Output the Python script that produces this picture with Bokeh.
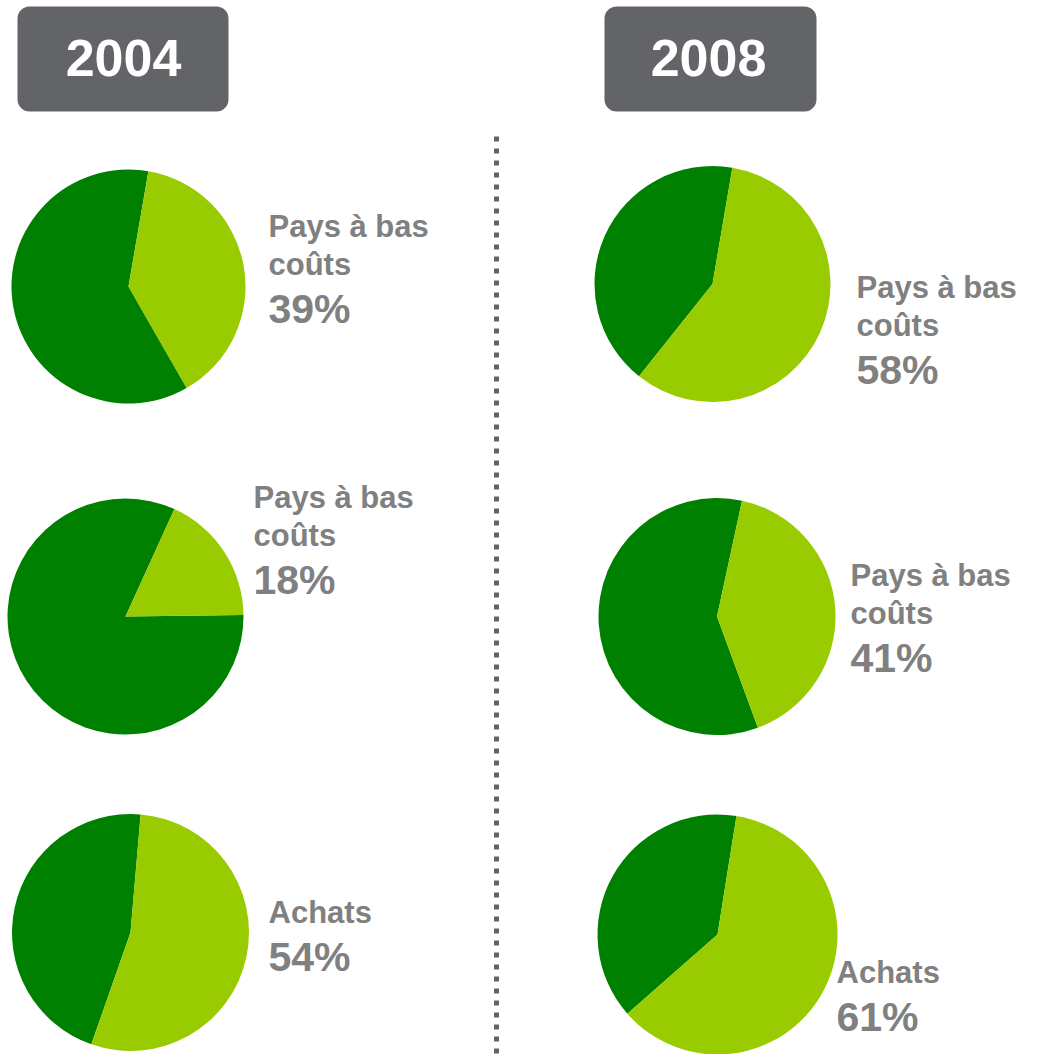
import math
from bokeh.plotting import figure
from bokeh.models import Range1d, ColumnDataSource
from bokeh.embed import file_html
from bokeh.resources import INLINE
from bokeh.core.properties import value

# ---- data ----
years = ["2004", "2008"]
categories = ["Pays à bas\ncoûts", "Pays à bas\ncoûts", "Achats",
              "Pays à bas\ncoûts", "Pays à bas\ncoûts", "Achats"]
shares = [39, 18, 54, 58, 41, 61]   # light-green share (%)

# ---- layout (screen pixel coordinates) ----
cx = [128, 125, 130, 712, 716.5, 717]
cy = [286, 616, 932, 283.5, 616, 934]
rad = [117, 118, 118.5, 118, 118.5, 120]
rot = [9.8, 24.5, 4.9, 9.7, 12.2, 9.1]      # start of light slice, deg clockwise from top
lab_x = [268, 253, 268, 856, 850, 836]
lab_y1 = [226, 497, 912, 287, 575, 972]      # first text line position
LIGHT = "#99CC00"
DARK = "#008000"
GREY_TXT = "#808080"
BOX = "#636468"

W, H = 1025, 1054
Y = lambda s: H - s

p = figure(width=W, height=H, x_range=Range1d(0, W), y_range=Range1d(0, H),
           output_backend="svg", toolbar_location=None, min_border=0)
p.axis.visible = False
p.grid.visible = False
p.outline_line_color = None
p.background_fill_color = "white"

# pies
a0 = [math.radians(90 - r) for r in rot]
a1 = [math.radians(90 - r - s * 3.6) for r, s in zip(rot, shares)]
src = ColumnDataSource(dict(x=cx, y=[Y(v) for v in cy], r=rad, a0=a0, a1=a1))
p.wedge(x="x", y="y", radius="r", start_angle="a1", end_angle="a0",
        direction="clock", fill_color=DARK, line_color=None, source=src)
p.wedge(x="x", y="y", radius="r", start_angle="a0", end_angle="a1",
        direction="clock", fill_color=LIGHT, line_color=None, source=src)

# labels
lx, ly, lt = [], [], []
px, py, pt = [], [], []
for i, cat in enumerate(categories):
    lines = cat.split("\n")
    y = lab_y1[i]
    for ln in lines:
        lx.append(lab_x[i]); ly.append(Y(y)); lt.append(ln)
        y += 38
    px.append(lab_x[i]); py.append(Y(y + 45 - 38 - 1)); pt.append(f"{shares[i]}%")

p.text(x=lx, y=ly, text=lt, text_align="left", text_baseline="alphabetic",
       text_font=value("Liberation Sans"), text_font_style="bold",
       text_font_size=value("31px"), text_color=GREY_TXT)
p.text(x=px, y=py, text=pt, text_align="left", text_baseline="alphabetic",
       text_font=value("Liberation Sans"), text_font_style="bold",
       text_font_size=value("41px"), text_color=GREY_TXT)

# year header boxes
p.quad(left=[17, 604], right=[228, 816], top=[Y(6), Y(6)], bottom=[Y(111), Y(111)],
       fill_color=BOX, line_color=None, border_radius=12)
p.text(x=[123, 708], y=[Y(57), Y(57)], text=years, text_align="center",
       text_baseline="alphabetic", text_font=value("Liberation Sans"),
       text_font_style="bold", text_font_size=value("52px"), text_color="white")

# dotted separator
p.line(x=[496, 496], y=[Y(136), Y(1062)], line_color=BOX, line_width=5,
       line_dash="5 7", line_cap="butt")

open("out.html", "w").write(file_html(p, INLINE))
